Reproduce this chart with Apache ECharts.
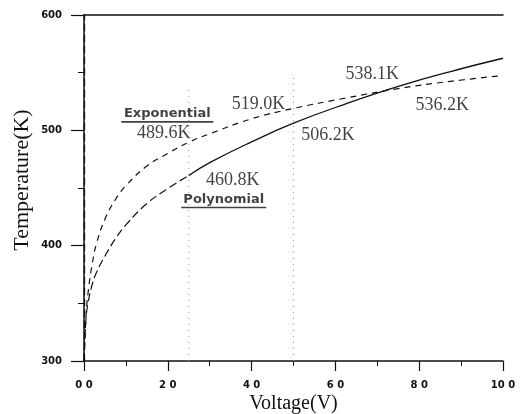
<!DOCTYPE html>
<html><head><meta charset="utf-8">
<script src="https://cdn.jsdelivr.net/npm/echarts@6/dist/echarts.min.js"></script>
<style>html,body{margin:0;padding:0;background:#fff}#c{width:524px;height:414px}</style>
</head><body><div id="c"></div>
<script>
// ---- data ----
const xTickValues = [0, 20, 40, 60, 80, 100];
const xTickLabels = ['0 0', '2 0', '4 0', '6 0', '8 0', '10 0'];
const yTickValues = [300, 400, 500, 600];
const yTickLabels = ['300', '400', '500', '600'];

const expVoltage = [0, 0.5, 1, 2, 3, 5, 7.5, 10, 15, 20, 25, 30, 40, 50, 62.5, 75, 87.5, 100];
const expTemp    = [300, 340, 360, 385, 402, 423, 440, 452, 469, 480, 489.6, 497, 510, 519.0, 528, 536.2, 542.5, 547.5];

const polyVoltage = [0, 0.5, 1, 2, 3, 5, 7.5, 10, 15, 20, 25, 30, 40, 50, 62.5, 75, 87.5, 100];
const polyTemp    = [300, 338, 351, 367, 377, 391, 406, 418, 436.5, 449.5, 460.8, 472, 490, 506.2, 523, 538.1, 551, 562.5];

const refVoltage = [25, 50];
const refBottom = [300, 300];
const refTop = [535, 548];

const annVoltage = [25, 25, 50, 50, 75, 75];
const annTemp = [489.6, 460.8, 519.0, 506.2, 538.1, 536.2];
const annText = ['489.6K', '460.8K', '519.0K', '506.2K', '538.1K', '536.2K'];

const curveNames = ['Exponential', 'Polynomial'];
const curveNameAnchorV = [25, 25];
const curveNameAnchorT = [489.6, 460.8];

// ---- styles / layout ----
const annOffsets = [[-25, -9], [44, 5], [-35, -4.5], [34.5, 12.5], [-26, -12.5], [44, 17]];
const nameOffsets = [[-21.5, -27.5], [35, 25]];
const underlineWidths = [92, 85];
const serif = '"Liberation Serif", "Times New Roman", serif';
const sans = '"DejaVu Sans", sans-serif';

const pairs = (xs, ys) => xs.map((x, i) => [x, ys[i]]);
const expData = pairs(expVoltage, expTemp);
const polyAll = pairs(polyVoltage, polyTemp);
const polyEarly = polyAll.filter(p => p[0] <= 25);
const polyLate = polyAll.filter(p => p[0] >= 25);

const chart = echarts.init(document.getElementById('c'), null, {renderer: 'canvas'});

const series = [
  {
    type: 'line', name: 'Exponential', data: expData, showSymbol: false, symbol: 'none',
    smooth: 0.45,
    lineStyle: {color: '#111', width: 1.2, type: [6, 5]}, z: 3
  },
  {
    type: 'line', name: 'Polynomial', data: polyEarly, showSymbol: false, symbol: 'none',
    smooth: 0.45,
    lineStyle: {color: '#111', width: 1.2, type: [8, 4]}, z: 3
  },
  {
    type: 'line', name: 'Polynomial', data: polyLate, showSymbol: false, symbol: 'none',
    smooth: 0.45,
    lineStyle: {color: '#111', width: 1.3}, z: 3
  }
];
refVoltage.forEach((v, i) => {
  series.push({
    type: 'line', data: [[v, refBottom[i]], [v, refTop[i]]], showSymbol: false, symbol: 'none',
    lineStyle: {color: '#9a9a9a', width: 1, type: [1, 5]}, z: 1, silent: true
  });
});
series.push({
  type: 'scatter', symbolSize: 0, z: 5, silent: true,
  data: annVoltage.map((v, i) => ({
    value: [v, annTemp[i]],
    label: {offset: annOffsets[i]}
  })),
  label: {
    show: true, position: 'inside', align: 'center', verticalAlign: 'middle',
    formatter: p => annText[p.dataIndex],
    fontFamily: serif, fontSize: 18, color: '#111'
  }
});
series.push({
  type: 'scatter', symbolSize: 0, z: 5, silent: true,
  data: curveNames.map((n, i) => ({
    value: [curveNameAnchorV[i], curveNameAnchorT[i]],
    label: {
      offset: nameOffsets[i],
      rich: {
        t: {fontFamily: sans, fontWeight: 'bold', fontSize: 13, lineHeight: 14, color: '#111', align: 'center'},
        u: {width: underlineWidths[i], height: 1.6, lineHeight: 1.6, backgroundColor: '#111', align: 'center'}
      }
    }
  })),
  label: {
    show: true, position: 'inside', align: 'center', verticalAlign: 'middle',
    formatter: p => '{t|' + curveNames[p.dataIndex] + '}\n{u|}'
  }
});

chart.setOption({
  animation: false,
  backgroundColor: '#fff',
  grid: {left: 84, right: 21, top: 15, bottom: 53, containLabel: false, outerBoundsMode: 'none'},
  xAxis: [
    {
      type: 'value', min: 0, max: 100, interval: 20,
      name: 'Voltage(V)', nameLocation: 'middle', nameGap: 33, nameMoveOverlap: false,
      nameTextStyle: {fontFamily: serif, fontSize: 20, color: '#111'},
      axisLine: {show: true, onZero: false, lineStyle: {color: '#111', width: 1.5}},
      axisTick: {show: true, inside: false, length: 10, lineStyle: {color: '#111', width: 1.2}},
      minorTick: {show: true, splitNumber: 2, length: 5, lineStyle: {color: '#111', width: 1}},
      axisLabel: {
        margin: 19, fontFamily: sans, fontWeight: 'bold', fontSize: 10, color: '#111',
        formatter: v => { const k = xTickValues.indexOf(v); return k >= 0 ? xTickLabels[k] : ''; }
      },
      splitLine: {show: false}
    },
    {
      type: 'value', position: 'top', min: 0, max: 100,
      axisLine: {show: true, lineStyle: {color: '#111', width: 1.5}},
      axisTick: {show: false}, axisLabel: {show: false}, splitLine: {show: false}
    }
  ],
  yAxis: [
    {
      type: 'value', min: 300, max: 600, interval: 100,
      name: 'Temperature(K)', nameLocation: 'middle', nameGap: 51, nameRotate: 90, nameMoveOverlap: false,
      nameTextStyle: {fontFamily: serif, fontSize: 22, color: '#111', padding: [0, 0, 0, 16]},
      axisLine: {show: true, onZero: false, lineStyle: {color: '#111', width: 1.5}},
      axisTick: {show: true, inside: false, length: 13, lineStyle: {color: '#111', width: 1.2}},
      minorTick: {show: true, splitNumber: 2, length: 6, lineStyle: {color: '#111', width: 1}},
      axisLabel: {
        margin: 22, fontFamily: sans, fontWeight: 'bold', fontSize: 10, color: '#111',
        formatter: v => { const k = yTickValues.indexOf(v); return k >= 0 ? yTickLabels[k] : ''; }
      },
      splitLine: {show: false}
    },
    {
      type: 'value', position: 'right', min: 300, max: 600,
      axisLine: {show: true, lineStyle: {color: '#111', width: 1.3, type: [7, 4]}},
      axisTick: {show: false}, axisLabel: {show: false}, splitLine: {show: false}
    }
  ],
  series: series
});
</script>
</body></html>
